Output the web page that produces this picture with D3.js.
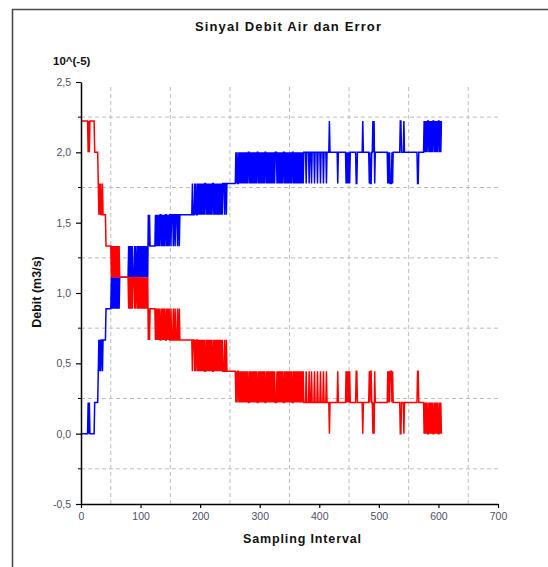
<!DOCTYPE html>
<html>
<head>
<meta charset="utf-8">
<script src="https://cdn.jsdelivr.net/npm/d3@7"></script>
<style>
  body { margin: 0; background: #fff; }
  svg { display: block; font-family: "Liberation Sans", Arial, sans-serif; }
</style>
</head>
<body>
<svg id="chart" width="548" height="567"></svg>
<script>
// quantised levels of the signal (x 10^-5 m3/s)
var levelValues = [0, 0.2222, 0.4444, 0.6667, 0.8889, 1.1111, 1.3333, 1.5556, 1.7778, 2.0, 2.2222];

// one character per sample, level index 0..9, A = 10
var debitCodes = [
  "000000000000", "1010", "0000000", "111111", "23232332", "33333", "444444444",
  "54545454545454", "55555555555555", "5656565655565655", "656565656565656565",
  "7676", "66666666", "7676767677", "6767676776", "76767",
  "767776776777677677", "777777777777777777",
  "7877787877", "8787878787", "8788787878", "7878788787", "8787878787",
  "878887887888", "88888888888",
  "8989889898", "9898989898", "9899898989", "8989898998", "9898989898", "9989898989",
  "8989898999", "8989898989", "8998989898", "9898989989", "8989898989", "8989899",
  "9989999899", "9899998999", "9899998999", "989999899",
  "99A99999999999998", "9999999999999", "8989898", "9999999999", "88", "999999999",
  "A", "9999999999", "8988", "99", "A9A8", "9999999999", "99999999999",
  "898988898", "999999999999", "AA9999A99", "9999999999", "9999999999", "88", "999999999",
  "A9A9A9AA9A", "9A9A9AA9A9", "A9A9AA9A9A"
];

var errorCodes = [
  "AAAAAAAAAAAA", "9A9A", "AAAAAAA", "999999", "87878778", "77777", "666666666",
  "56565656565656", "55555555555555", "5454545455545455", "454545454545454545",
  "3434", "44444444", "3434343433", "4343434334", "34343",
  "343334334333433433", "333333333333333333",
  "3233323233", "2323232323", "2322323232", "3232322323", "2323232323",
  "232223223222", "22222222222",
  "2121221212", "1212121212", "1211212121", "2121212112", "1212121212", "1121212121",
  "2121212111", "2121212121", "2112121212", "1212121121", "2121212121", "2121211",
  "1121111211", "1211112111", "1211112111", "121111211",
  "11011111111111112", "1111111111111", "2121212", "1111111111", "22", "111111111",
  "0", "1111111111", "2122", "11", "0102", "1111111111", "11111111111",
  "212122212", "111111111111", "001111011", "1111111111", "1111111111", "22", "111111111",
  "0101010010", "1010100101", "0101001010"
];

var xTicks = [0, 100, 200, 300, 400, 500, 600, 700];
var xGrid = [50, 150, 250, 350, 450, 550, 650];
var yTicks = [-0.5, 0, 0.5, 1.0, 1.5, 2.0, 2.5];
var yTickLabels = ["-0,5", "0,0", "0,5", "1,0", "1,5", "2,0", "2,5"];
var yGrid = [-0.25, 0.25, 0.75, 1.25, 1.75, 2.25];

function toSeries(codes) {
  return codes.join("").split("").map(function(c, i) {
    return { s: i, v: levelValues[parseInt(c, 11)] };
  });
}
var debit = toSeries(debitCodes);
var error = toSeries(errorCodes);

var svg = d3.select("#chart");

var x = d3.scaleLinear().domain([0, 700]).range([81, 498]);
var y = d3.scaleLinear().domain([-0.5, 2.5]).range([504, 82]);

// outer frame (only top and left edges are visible)
svg.append("path")
  .attr("d", "M12.5,567 L12.5,9.5 L548,9.5")
  .attr("fill", "none")
  .attr("stroke", "#4a4a4a")
  .attr("stroke-width", 1.6);

// dashed grid
svg.append("g").selectAll("line")
  .data(xGrid).enter().append("line")
  .attr("x1", d => x(d)).attr("x2", d => x(d))
  .attr("y1", y(-0.5)).attr("y2", y(2.47))
  .attr("stroke", "#bdbdbd").attr("stroke-dasharray", "4,3");

svg.append("g").selectAll("line")
  .data(yGrid).enter().append("line")
  .attr("x1", x(0)).attr("x2", x(700))
  .attr("y1", d => y(d)).attr("y2", d => y(d))
  .attr("stroke", "#bdbdbd").attr("stroke-dasharray", "4,3");

// signals
var line = d3.line().x(d => x(d.s)).y(d => y(d.v));

svg.append("path").datum(debit)
  .attr("d", line)
  .attr("fill", "none").attr("stroke", "#0000ff").attr("stroke-width", 1.5)
  .attr("stroke-linejoin", "miter");

svg.append("path").datum(error)
  .attr("d", line)
  .attr("fill", "none").attr("stroke", "#ff0000").attr("stroke-width", 1.5)
  .attr("stroke-linejoin", "miter");

// axes
var xAxis = svg.append("g")
  .attr("transform", "translate(0," + y(-0.5) + ")")
  .call(d3.axisBottom(x).tickValues(xTicks).tickSize(4).tickSizeOuter(0).tickPadding(5));

var yAxis = svg.append("g")
  .attr("transform", "translate(" + x(0) + ",0)")
  .call(d3.axisLeft(y).tickValues(yTicks).tickSize(5).tickSizeOuter(0).tickPadding(5)
    .tickFormat((d, i) => yTickLabels[i]));

yAxis.selectAll(".minor").data(yGrid).enter().append("line")
  .attr("x1", -3).attr("x2", 0)
  .attr("y1", d => y(d)).attr("y2", d => y(d))
  .attr("stroke", "#000");

[xAxis, yAxis].forEach(function(g) {
  g.select(".domain").attr("stroke", "#000").attr("stroke-width", 1.5);
  g.selectAll(".tick line").attr("stroke", "#000").attr("stroke-width", 1.2);
  g.selectAll("text").attr("fill", "#505068").attr("font-size", 10.5)
    .attr("font-family", "'Liberation Sans', Arial, sans-serif");
});

// titles
svg.append("text")
  .attr("x", 288).attr("y", 31)
  .attr("text-anchor", "middle")
  .attr("font-size", 13).attr("font-weight", "bold").attr("fill", "#111")
  .attr("textLength", 186).attr("lengthAdjust", "spacing")
  .text("Sinyal Debit Air dan Error");

svg.append("text")
  .attr("x", 53).attr("y", 65)
  .attr("font-size", 11.5).attr("font-weight", "bold").attr("fill", "#111")
  .text("10^(-5)");

svg.append("text")
  .attr("x", 302).attr("y", 543)
  .attr("text-anchor", "middle")
  .attr("font-size", 12.5).attr("font-weight", "bold").attr("fill", "#111")
  .attr("textLength", 118).attr("lengthAdjust", "spacing")
  .text("Sampling Interval");

svg.append("text")
  .attr("transform", "translate(41,292) rotate(-90)")
  .attr("text-anchor", "middle")
  .attr("font-size", 12.5).attr("font-weight", "bold").attr("fill", "#111")
  .text("Debit (m3/s)");
</script>
</body>
</html>
